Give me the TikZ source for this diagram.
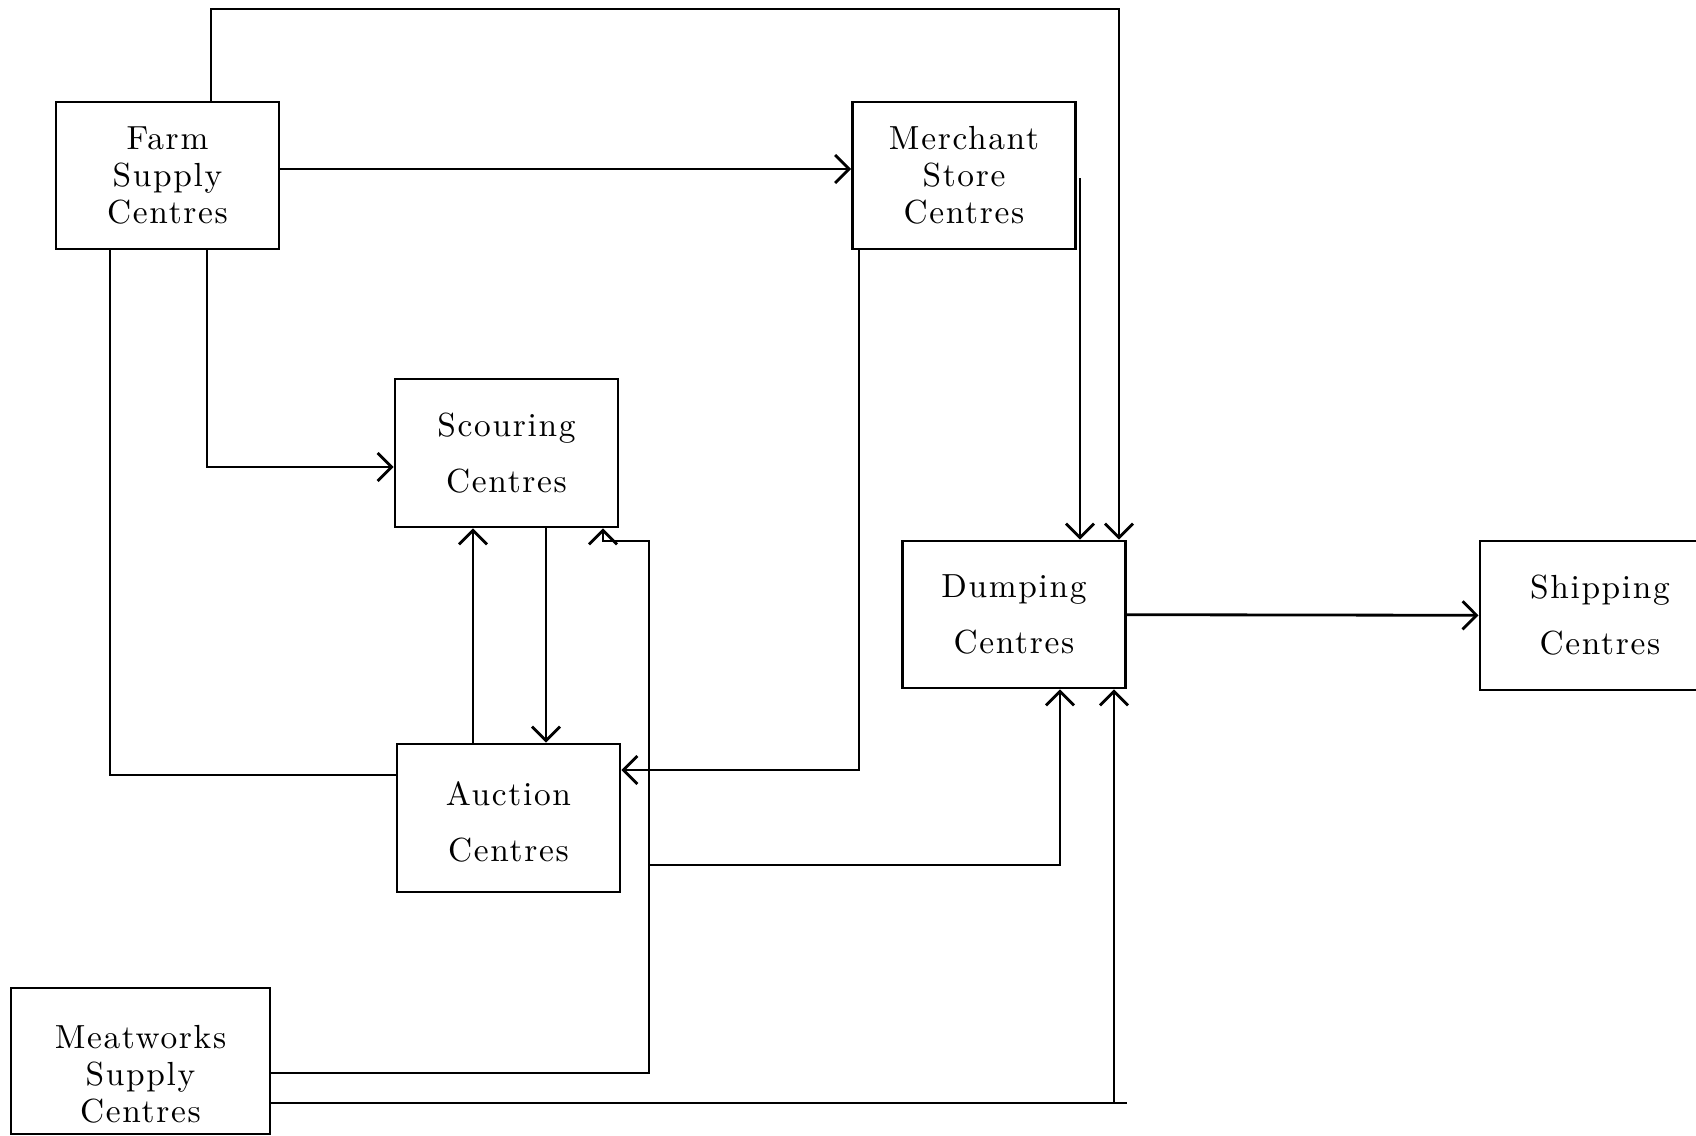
\documentclass[tikz,border=0pt]{standalone}
\usepackage{fontspec}
\usetikzlibrary{arrows.meta}
\newfontfamily\boxfont{lmroman10-regular.otf}[LetterSpace=5]

\begin{document}
\begin{tikzpicture}[
  x=0.01cm, y=-0.01cm,
  box/.style={draw, rectangle, line width=0.8pt, minimum width=2.23cm, minimum height=1.47cm,
              align=center, inner sep=0pt, font=\fontsize{9.5}{10.5}\boxfont},
  arrow/.style={->, line width=0.8pt, >={Straight Barb[length=1.4mm,width=2.8mm]}},
  line/.style={line width=0.8pt}
]

% Frame
\useasboundingbox (0,0) rectangle (1696,1136);
\clip (0,0) rectangle (1696,1136);

% Supply centres
\node[box] (farm) at (167.5,175.5) {Farm\\Supply\\Centres};
\node[box, minimum width=2.59cm, minimum height=1.46cm] (meat) at (140.5,1061) {\rule{0pt}{14pt}Meatworks\\Supply\\Centres};

% Middle
\node[box] (merch) at (964,175.5) {Merchant\\Store\\Centres};
\node[box, minimum height=1.48cm] (scour) at (506.5,453) {Scouring\\[5.4pt]Centres};
\node[box, minimum height=1.48cm] (auct) at (508.5,818) {\rule{0pt}{9pt}Auction\\[5.4pt]Centres};

% Output
\node[box] (dump) at (1014,614.5) {Dumping\\[5.4pt]Centres};
\node[box, minimum width=2.4cm, minimum height=1.49cm] (ship) at (1600,615.5) {Shipping\\[5.4pt]Centres};

% Bend points
\coordinate (ftop) at (211,9);
\coordinate (dtop) at (1119,9);
\coordinate (fm) at (0,169);
\coordinate (fs) at (207,467);
\coordinate (fa) at (110,775);
\coordinate (au) at (473,0);
\coordinate (sd) at (546,0);
\coordinate (ma) at (859,770);
\coordinate (md) at (1080,178);
\coordinate (ms) at (649,1073);
\coordinate (sc) at (603,541);
\coordinate (ad) at (1060,865);
\coordinate (mdp) at (1114,1103);

% Arrows
\draw[arrow] (farm.north -| ftop) |- (dtop) -- (dump.north -| dtop);
\draw[arrow] (farm.east |- fm) -- (merch.west |- fm);
\draw[arrow] (farm.south -| fs) |- (scour.west |- fs);
\draw[line] (farm.south -| fa) |- (auct.west |- fa);

\draw[arrow] (auct.north -| au) -- (scour.south -| au);
\draw[arrow] (scour.south -| sd) -- (auct.north -| sd);

\draw[arrow] (merch.south -| ma) |- (auct.east |- ma);
\draw[arrow] (md) -- (dump.north -| md);

\draw[arrow] (meat.east |- ms) -- (ms) |- (sc) -- (scour.south -| sc);
\draw[arrow] (ms |- ad) -- (ad) -- (dump.south -| ad);
\draw[arrow] (meat.east |- mdp) -- (mdp) -- (dump.south -| mdp);
\draw[line] (mdp) -- (dump.east |- mdp);

\draw[arrow] (dump) -- (ship);

\end{tikzpicture}
\end{document}
